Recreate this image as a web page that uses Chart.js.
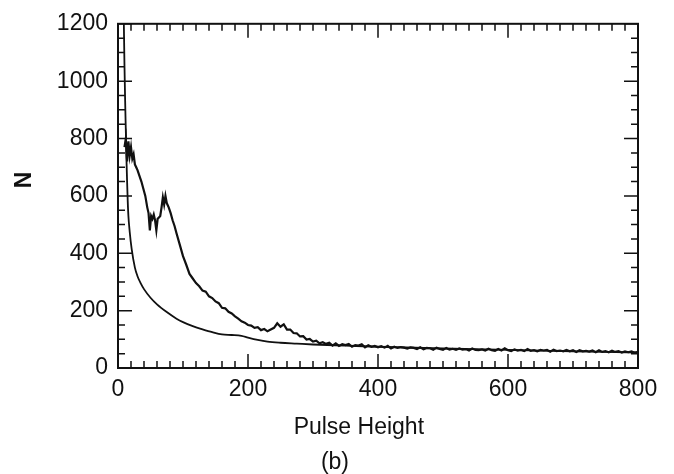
<!DOCTYPE html>
<html>
<head>
<meta charset="utf-8">
<script src="https://cdn.jsdelivr.net/npm/chart.js@4/dist/chart.umd.min.js"></script>
<style>
  body { margin: 0; background: #fff; }
</style>
</head>
<body>
<canvas id="pulseChart" width="674" height="474"></canvas>
<script>
// measured spectrum (noisy curve)
const spectrumX = [10, 12, 14, 16, 18, 20, 22, 24, 26, 28, 30, 33, 36, 39, 42, 45, 47, 49, 51, 53, 55, 57, 59, 61, 63, 65, 67, 69, 71, 73, 75, 78, 81, 84, 87, 90,
  95, 100, 105, 110, 115, 120, 125, 130, 135, 140, 145, 150, 155, 160, 165, 170, 175, 180, 185, 190, 195, 200,
  205, 210, 215, 220, 225, 230, 235, 240, 245, 250, 255, 260, 265, 270, 275, 280, 285, 290, 295, 300,
  305, 310, 315, 320, 325, 330, 335, 340, 345, 350, 355, 360, 365, 370, 375, 380, 385, 390, 395, 400,
  405, 410, 415, 420, 425, 430, 435, 440, 445, 450, 455, 460, 465, 470, 475, 480, 485, 490, 495, 500,
  505, 510, 515, 520, 525, 530, 535, 540, 545, 550, 555, 560, 565, 570, 575, 580, 585, 590, 595, 600,
  605, 610, 615, 620, 625, 630, 635, 640, 645, 650, 655, 660, 665, 670, 675, 680, 685, 690, 695, 700,
  705, 710, 715, 720, 725, 730, 735, 740, 745, 750, 755, 760, 765, 770, 775, 780, 785, 790, 795, 800];
const spectrumN = [770, 800, 720, 790, 740, 770, 730, 745, 710, 700, 690, 670, 650, 625, 600, 560, 540, 480, 530, 520, 535, 515, 480, 520, 525, 530, 560, 595, 570, 600, 575, 560, 540, 515, 495, 470,
  430, 390, 360, 328, 312, 296, 285, 270, 266, 250, 244, 232, 226, 210, 208, 196, 190, 180, 172, 163, 158, 150,
  148, 140, 142, 132, 136, 128, 134, 140, 156, 144, 152, 134, 134, 122, 121, 110, 111, 99, 101, 92,
  95, 86, 90, 84, 88, 78, 86, 77, 83, 80, 84, 74, 80, 78, 83, 72, 79, 74, 77, 72,
  76, 71, 77, 68, 74, 70, 73, 71, 68, 72, 70, 66, 72, 65, 70, 69, 64, 71, 66, 63,
  70, 64, 67, 63, 68, 64, 66, 61, 68, 63, 62, 65, 61, 67, 62, 60, 66, 61, 69, 62,
  59, 65, 61, 63, 59, 66, 60, 62, 58, 63, 61, 63, 57, 64, 59, 61, 58, 63, 58, 62,
  56, 62, 58, 60, 57, 61, 55, 62, 56, 59, 55, 60, 56, 59, 54, 58, 55, 58, 53, 56];

// background (smooth curve)
const smoothX = [9, 10, 11, 12, 13, 14, 15, 16, 18, 21, 26, 30, 35, 40, 50, 60, 75, 90, 100, 115, 130, 145, 160, 175, 190, 200, 215, 230, 250, 275, 300, 350, 400, 500, 600, 700, 800];
const smoothN = [1200, 1050, 930, 830, 730, 650, 580, 530, 475, 415, 350, 320, 295, 275, 245, 222, 195, 172, 160, 146, 135, 125, 117, 115, 112, 106, 98, 92, 88, 85, 82, 78, 74, 68, 63, 58, 54];

const xTicks = [0, 200, 400, 600, 800];
const yTicks = [0, 200, 400, 600, 800, 1000, 1200];

const ink = "#111";
const font = "'Liberation Sans', Arial, Helvetica, sans-serif";

// inward ticks on all four sides + frame
const frameTicks = {
  id: "frameTicks",
  afterDatasetsDraw(chart) {
    const { ctx, chartArea: a, scales: { x, y } } = chart;
    ctx.save();
    ctx.strokeStyle = ink;
    ctx.lineWidth = 1.5;
    ctx.beginPath();
    for (let v = 0; v <= 800; v += 20) {
      const px = x.getPixelForValue(v);
      const len = v % 200 === 0 ? 14 : 7;
      ctx.moveTo(px, a.bottom);
      ctx.lineTo(px, a.bottom - len);
      ctx.moveTo(px, a.top);
      ctx.lineTo(px, a.top + len);
    }
    for (let v = 0; v <= 1200; v += 50) {
      const py = y.getPixelForValue(v);
      const len = v % 200 === 0 ? 14 : 7;
      ctx.moveTo(a.left, py);
      ctx.lineTo(a.left + len, py);
      ctx.moveTo(a.right, py);
      ctx.lineTo(a.right - len, py);
    }
    ctx.stroke();
    ctx.lineWidth = 2;
    ctx.strokeRect(a.left, a.top, a.right - a.left, a.bottom - a.top);
    ctx.restore();
  },
};

const ctx = document.getElementById("pulseChart").getContext("2d");
const pulseChart = new Chart(ctx, {
  type: "line",
  data: {
    datasets: [
      {
        data: spectrumX.map((v, i) => ({ x: v, y: spectrumN[i] })),
        borderColor: ink,
        borderWidth: 2.2,
        pointRadius: 0,
        tension: 0,
      },
      {
        data: smoothX.map((v, i) => ({ x: v, y: smoothN[i] })),
        borderColor: ink,
        borderWidth: 1.8,
        pointRadius: 0,
        cubicInterpolationMode: "monotone",
      },
    ],
  },
  options: {
    responsive: false,
    animation: false,
    layout: { padding: { top: 20, right: 36, left: 0, bottom: 0 } },
    scales: {
      x: {
        type: "linear",
        min: 0,
        max: 800,
        afterBuildTicks: (s) => { s.ticks = xTicks.map((v) => ({ value: v })); },
        afterFit: (s) => { s.height = 83; },
        grid: { display: false, drawTicks: false },
        border: { display: false },
        ticks: { color: ink, padding: 8, maxRotation: 0, font: { family: font, size: 23 }, callback: (v) => String(v) },
        title: {
          display: true,
          text: "Pulse Height      ",
          color: ink,
          padding: { top: 0, bottom: 10 },
          font: { family: font, size: 23 },
        },
      },
      y: {
        type: "linear",
        min: 0,
        max: 1200,
        afterBuildTicks: (s) => { s.ticks = yTicks.map((v) => ({ value: v })); },
        afterFit: (s) => { s.width = 118; },
        grid: { display: false, drawTicks: false },
        border: { display: false },
        ticks: { color: ink, padding: 10, font: { family: font, size: 23 }, callback: (v) => String(v) },
        title: {
          display: true,
          text: "     N",
          color: ink,
          padding: { top: 11, bottom: 0 },
          font: { family: font, size: 23, weight: "bold" },
        },
      },
    },
    plugins: {
      legend: { display: false },
      tooltip: { enabled: false },
      title: {
        display: true,
        position: "bottom",
        text: "     (b)",
        color: ink,
        padding: 0,
        font: { family: font, size: 23, lineHeight: 1, weight: "normal" },
      },
    },
  },
  plugins: [frameTicks],
});
</script>
</body>
</html>
